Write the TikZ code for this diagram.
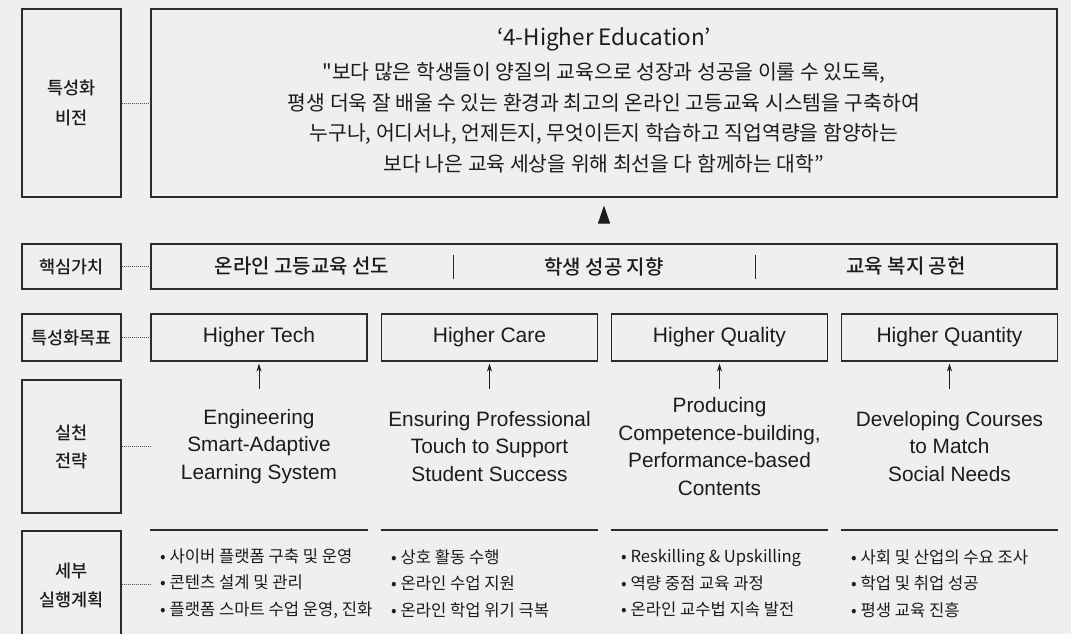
\documentclass[tikz,border=0pt]{standalone}
\usepackage{fontspec}
\setmainfont{Noto Sans CJK KR}
\newfontfamily\vfont{Noto Sans CJK KR}
\newfontfamily\krmed{Noto Sans CJK KR Medium}
\newfontfamily\latfont{Liberation Sans}
\usetikzlibrary{arrows.meta,calc}
\definecolor{bg}{HTML}{EFEFEF}
\definecolor{ink}{HTML}{1C1C1C}
\definecolor{edge}{HTML}{2B2B2B}
\definecolor{dotc}{HTML}{555555}
\begin{document}
\begin{tikzpicture}[x=1pt,y=-1pt,
  lbl/.style={draw=edge,line width=1.1pt,minimum width=99pt,inner sep=0pt,align=center,
    text=ink,font=\krmed\fontsize{17.5}{29.5}\selectfont},
  bigbox/.style={draw=edge,line width=1.1pt,minimum width=906pt,inner sep=0pt},
  goalbox/.style={draw=edge,line width=1.1pt,minimum width=216pt,minimum height=47pt,inner sep=0pt,
    text=ink,font=\latfont\fontsize{21}{24}\selectfont},
  strat/.style={align=center,inner sep=0pt,text=ink,font=\latfont\fontsize{20.8}{27.6}\selectfont},
  core/.style={inner sep=0pt,text=ink,font=\krmed\fontsize{20}{22}\selectfont},
  plan/.style={anchor=west,align=left,inner sep=0pt,text=ink,font=\vfont\fontsize{16.6}{26.5}\selectfont},
  dotline/.style={draw=dotc,line width=0.8pt,dash pattern=on 1pt off 1pt},
  smallarrow/.style={draw=ink,line width=1pt,-{Stealth[length=8pt,width=5pt]}},
  bigarrow/.style={draw=ink,line width=1pt,-{Triangle[length=18pt,width=12pt]}},
  rule/.style={draw=edge,line width=1.1pt}]
\fill[bg] (0,0) rectangle (1071,634);
\useasboundingbox (0,0) rectangle (1071,634);

% vision
\node[lbl,minimum height=188pt,font=\krmed\fontsize{17.5}{30}\selectfont] (vl) at (71.5,103) {특성화\\비전};
\node[bigbox,minimum height=188pt] (vb) at (604,103) {};
\node[inner sep=0pt,text=ink,font=\vfont\fontsize{22.5}{24}\selectfont] (vt) at (604,39) {‘4-Higher Education’};
\node[inner sep=0pt,align=center,text=ink,font=\vfont\fontsize{20.4}{30.6}\selectfont] (vtext) at (604,118)
  {"보다 많은 학생들이 양질의 교육으로 성장과 성공을 이룰 수 있도록,\\
   평생 더욱 잘 배울 수 있는 환경과 최고의 온라인 고등교육 시스템을 구축하여\\
   누구나, 어디서나, 언제든지, 무엇이든지 학습하고 직업역량을 함양하는\\
   보다 나은 교육 세상을 위해 최선을 다 함께하는 대학”};
\draw[dotline] (vl.east) -- (vb.west);

% core values
\node[lbl,minimum height=45pt] (cl) at (71.5,266.5) {핵심가치};
\node[bigbox,minimum height=45pt] (cb) at (604,266.5) {};
\node[core] (c1) at (302,266.5) {온라인 고등교육 선도};
\node[core] (c2) at (604,266.5) {학생 성공 지향};
\node[core] (c3) at (906,266.5) {교육 복지 공헌};
\draw[rule,line width=1pt] (453,254.5) -- (453,278.5);
\draw[rule,line width=1pt] (755,254.5) -- (755,278.5);
\draw[dotline] (cl.east) -- (cb.west);
\draw[bigarrow,shorten <=21pt,shorten >=8pt] (cb.north) -- (vb.south);

% goals
\node[lbl,minimum height=47pt] (gl) at (71.5,337.5) {특성화목표};
\node[goalbox] (g1) at (259,337.5) {Higher Tech};
\node[goalbox] (g2) at (489.5,337.5) {Higher Care};
\node[goalbox] (g3) at (719.5,337.5) {Higher Quality};
\node[goalbox] (g4) at (949.5,337.5) {Higher Quantity};
\draw[dotline] (gl.east) -- (g1.west);

% strategies
\node[lbl,minimum height=133pt,font=\krmed\fontsize{17.5}{28}\selectfont] (sl) at (71.5,446.5) {실천\\전략};
\coordinate (sc) at (151,446.5);
\draw[dotline] (sl.east) -- (sc);
\node[strat] (s1) at (259,446.5) {Engineering\\Smart-Adaptive\\Learning System};
\node[strat] (s2) at (489.5,446.5) {Ensuring Professional\\Touch to Support\\Student Success};
\node[strat] (s3) at (719.5,446.5) {Producing\\Competence-building,\\Performance-based\\Contents};
\node[strat] (s4) at (949.5,446.5) {Developing Courses\\to Match\\Social Needs};
\foreach \i in {1,2,3,4}{
  \coordinate (a\i) at ($(g\i.south)+(0,27)$);
  \draw[smallarrow,shorten >=2pt] (a\i) -- (g\i.south);
}

% plans
\node[lbl,minimum height=109pt] (pl) at (71.5,585.5) {세부\\실행계획};
\coordinate (pc) at (151,584);
\draw[dotline] (pl.east |- pc) -- (pc);
\foreach \i in {1,2,3,4}{
  \draw[rule] ($(g\i.west)+(0,192.5)$) -- ($(g\i.east)+(0,192.5)$);
}
\node[plan] (p1) at (160,583.5) {• 사이버 플랫폼 구축 및 운영\\• 콘텐츠 설계 및 관리\\• 플랫폼 스마트 수업 운영, 진화};
\node[plan] (p2) at (391,583.5) {• 상호 활동 수행\\• 온라인 수업 지원\\• 온라인 학업 위기 극복};
\node[plan] (p3) at (621,583.5) {• Reskilling \& Upskilling\\• 역량 중점 교육 과정\\• 온라인 교수법 지속 발전};
\node[plan] (p4) at (851,583.5) {• 사회 및 산업의 수요 조사\\• 학업 및 취업 성공\\• 평생 교육 진흥};
\end{tikzpicture}
\end{document}
